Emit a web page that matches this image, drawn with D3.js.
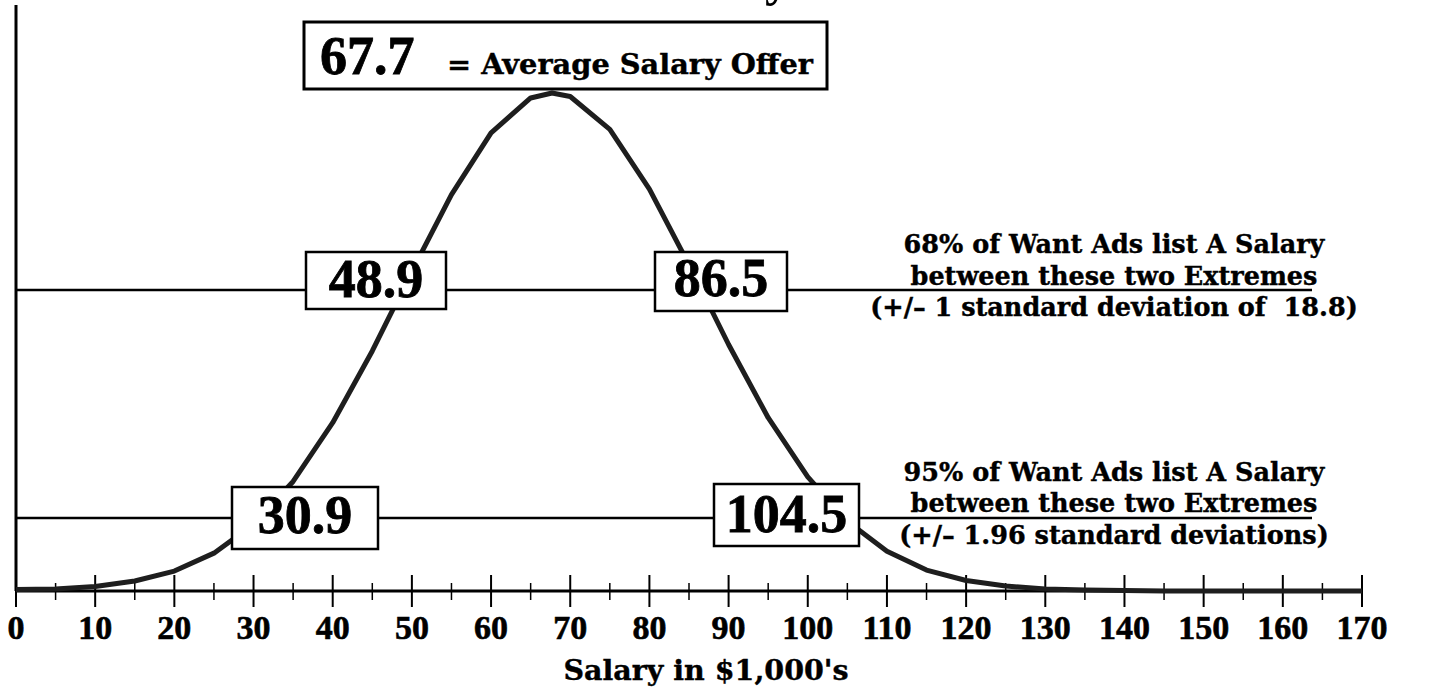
<!DOCTYPE html>
<html>
<head>
<meta charset="utf-8">
<script src="https://cdnjs.cloudflare.com/ajax/libs/d3/7.8.5/d3.min.js"></script>
<style>
    body { margin: 0; background: #fff; }
    svg { display: block; }
    text { font-family: "Liberation Serif", "Times New Roman", serif; font-weight: bold; fill: #000; }
    text.words { font-family: "DejaVu Serif", serif; white-space: pre; stroke: #000; stroke-width: 0.4px; }
</style>
</head>
<body>
<div id="chart"></div>
<script>
// Salary values (in $1,000's) where the curve has a vertex
const salaryX = [0, 5, 10, 15, 20, 25, 30, 35, 40, 45, 50, 55, 60, 65, 67.7, 70, 75, 80, 85, 90,
    95, 100, 105, 110, 115, 120, 125, 130, 135, 140, 145, 150, 155, 160, 165, 170];

// Relative frequency of want ads (percent of peak)
const frequency = [0.3, 0.4, 0.9, 2.0, 4.0, 7.6, 13.4, 22.0, 33.8, 48.2, 64.2, 79.6, 92.0, 99.0, 100, 99.3,
    92.7, 80.7, 65.5, 49.5, 34.8, 22.9, 14.0, 8.0, 4.2, 2.1, 1.0, 0.4, 0.2, 0.1, 0, 0, 0, 0, 0, 0];

// Axis ticks
const majorTicks = [0, 10, 20, 30, 40, 50, 60, 70, 80, 90, 100, 110, 120, 130, 140, 150, 160, 170];
const minorTicks = [5, 15, 25, 35, 45, 55, 65, 75, 85, 95, 105, 115, 125, 135, 145, 155, 165];

// Annotation texts
const meanLabel = "67.7";
const meanText = "= Average Salary Offer";
const oneSdLabels = ["48.9", "86.5"];
const twoSdLabels = ["30.9", "104.5"];
const oneSdText = ["68% of Want Ads list A Salary", "between these two Extremes", "(+/\u2013 1 standard deviation of  18.8)"];
const twoSdText = ["95% of Want Ads list A Salary", "between these two Extremes", "(+/\u2013 1.96 standard deviations)"];

// Dimensions
const width = 1432, height = 688;
const margin = { left: 16, top: 5 };

const svg = d3.select("#chart").append("svg")
    .attr("width", width)
    .attr("height", height);

// Scales
const x = d3.scaleLinear()
    .domain([0, 170])
    .range([margin.left, 1362]);

const y = d3.scaleLinear()
    .domain([0, 100])
    .range([591, 93]);

// Title (only the bottom of it shows at the top edge)
svg.append("text")
    .attr("x", 790)
    .attr("y", -5)
    .attr("text-anchor", "end")
    .style("font-size", "50px")
    .text("Want Ad Salary");

// Y axis line
svg.append("line")
    .attr("x1", x(0)).attr("x2", x(0))
    .attr("y1", margin.top).attr("y2", y(0))
    .attr("stroke", "#000")
    .attr("stroke-width", 3);

// Reference lines for +/- 1 sd and +/- 1.96 sd
const refLines = [290, 518];
refLines.forEach(ly => {
    svg.append("line")
        .attr("x1", x(0)).attr("x2", 1312)
        .attr("y1", ly).attr("y2", ly)
        .attr("stroke", "#000")
        .attr("stroke-width", 2.5);
});

// X axis
svg.append("line")
    .attr("x1", x(0)).attr("x2", x(170))
    .attr("y1", y(0)).attr("y2", y(0))
    .attr("stroke", "#000")
    .attr("stroke-width", 3);

svg.selectAll(".major")
    .data(majorTicks)
    .enter().append("line")
    .attr("x1", d => x(d)).attr("x2", d => x(d))
    .attr("y1", y(0) - 16).attr("y2", y(0) + 16)
    .attr("stroke", "#000")
    .attr("stroke-width", 2);

svg.selectAll(".minor")
    .data(minorTicks)
    .enter().append("line")
    .attr("x1", d => x(d)).attr("x2", d => x(d))
    .attr("y1", y(0) - 8).attr("y2", y(0) + 9)
    .attr("stroke", "#000")
    .attr("stroke-width", 1.5);

svg.selectAll(".tickLabel")
    .data(majorTicks)
    .enter().append("text")
    .attr("x", d => x(d))
    .attr("y", 639)
    .attr("text-anchor", "middle")
    .style("font-size", "34px")
    .style("stroke", "#000")
    .style("stroke-width", 0.6)
    .text(d => d);

// Axis title
svg.append("text")
    .attr("class", "words")
    .attr("x", 706)
    .attr("y", 680)
    .attr("text-anchor", "middle")
    .style("font-size", "28.5px")
    .text("Salary in $1,000's");

// The curve
const line = d3.line()
    .x((d, i) => x(salaryX[i]))
    .y(d => y(d));

svg.append("path")
    .datum(frequency)
    .attr("d", line)
    .attr("fill", "none")
    .attr("stroke", "#1e1e1e")
    .attr("stroke-width", 5)
    .attr("stroke-linejoin", "round");

// Boxed labels: text, left, top, width, height, baseline
function boxLabel(label, bx, by, bw, bh, base) {
    svg.append("rect")
        .attr("x", bx).attr("y", by)
        .attr("width", bw).attr("height", bh)
        .attr("fill", "#fff")
        .attr("stroke", "#000")
        .attr("stroke-width", 2.5);
    svg.append("text")
        .attr("x", bx + bw / 2)
        .attr("y", base)
        .attr("text-anchor", "middle")
        .style("font-size", "54px")
        .style("stroke", "#000")
        .style("stroke-width", 0.8)
        .text(label);
}

boxLabel(oneSdLabels[0], 306, 252, 140, 57, 297);
boxLabel(oneSdLabels[1], 655, 252, 132, 59, 296);
boxLabel(twoSdLabels[0], 232, 487, 146, 62, 533);
boxLabel(twoSdLabels[1], 714, 484, 145, 62, 532);

// Mean box
svg.append("rect")
    .attr("x", 304).attr("y", 22)
    .attr("width", 523).attr("height", 67)
    .attr("fill", "#fff")
    .attr("stroke", "#000")
    .attr("stroke-width", 3);

svg.append("text")
    .attr("x", 320)
    .attr("y", 74)
    .style("font-size", "54px")
    .style("stroke", "#000")
    .style("stroke-width", 0.8)
    .text(meanLabel);

svg.append("text")
    .attr("class", "words")
    .attr("x", 447)
    .attr("y", 74)
    .style("font-size", "27px")
    .attr("textLength", 366)
    .attr("lengthAdjust", "spacingAndGlyphs")
    .text(meanText);

// Right side explanations
function sideText(lines, baselines) {
    lines.forEach((t, i) => {
        svg.append("text")
            .attr("class", "words")
            .attr("x", 1114)
            .attr("y", baselines[i])
            .attr("text-anchor", "middle")
            .style("font-size", "25.5px")
            .text(t);
    });
}

sideText(oneSdText, [253, 285, 316]);
sideText(twoSdText, [481, 512, 544]);
</script>
</body>
</html>
